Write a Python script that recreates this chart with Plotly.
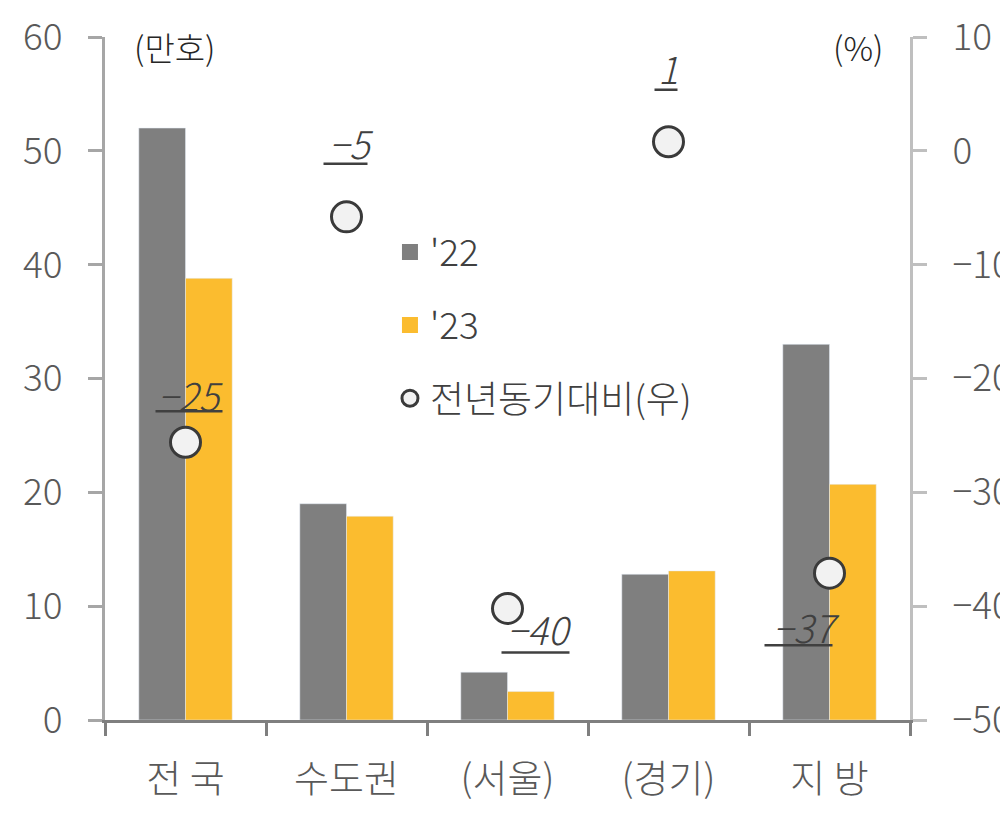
import plotly.graph_objects as go

categories = ["전 국", "수도권", "(서울)", "(경기)", "지 방"]
units_2022 = [52.0, 19.0, 4.2, 12.8, 33.0]
units_2023 = [38.8, 17.9, 2.5, 13.1, 20.7]
yoy_change = [-25.6, -5.8, -40.2, 0.8, -37.1]
yoy_labels = ["−25", "−5", "−40", "1", "−37"]

# label placement in pixels relative to each circle (text dx, dy up) and underline (x0, x1, dy up)
text_offsets = [(5, 48), (4, 74), (32, -20), (-1, 74), (-23, -53)]
line_offsets = [(-30, 37, 31), (-23, 21, 53), (-6, 62, -44), (-14, 9, 52), (-65, 3, -72)]

FONT = "Noto Sans CJK KR"
GRAY = "#7f7f7f"
YELLOW = "#fbbc2f"

fig = go.Figure()
fig.add_trace(go.Bar(x=categories, y=units_2022, marker_color=GRAY, showlegend=False))
fig.add_trace(go.Bar(x=categories, y=units_2023, marker_color=YELLOW, showlegend=False))

# legend entries
fig.add_trace(go.Scatter(x=[None], y=[None], mode="markers", name="'22", legendgroup="a",
                         marker=dict(symbol="square", size=16, color=GRAY)))
fig.add_trace(go.Scatter(x=[None], y=[None], mode="markers", name="'23", legendgroup="b",
                         marker=dict(symbol="square", size=16, color=YELLOW)))
fig.add_trace(go.Scatter(x=categories, y=yoy_change, mode="markers", yaxis="y2",
                         name="전년동기대비(우)", legendgroup="c",
                         marker=dict(size=30, color="#f2f2f2", line=dict(color="#3a3a3a", width=3))))

for cat, val, lab, (dx, dy), (lx0, lx1, ly) in zip(categories, yoy_change, yoy_labels, text_offsets, line_offsets):
    fig.add_annotation(x=cat, y=val, yref="y2", text="<i>" + lab + "</i>", showarrow=False,
                       xshift=dx, yshift=dy,
                       font=dict(family=FONT, size=38, color="#404040", weight=300))
    fig.add_shape(type="line", xref="x", yref="y2", xsizemode="pixel", ysizemode="pixel",
                  xanchor=cat, yanchor=val, x0=lx0, x1=lx1, y0=ly, y1=ly,
                  line=dict(color="#404040", width=2.5))

fig.add_annotation(x=0.087, y=0.985, xref="paper", yref="paper", xanchor="center", yanchor="middle",
                   text="(만호)", showarrow=False,
                   font=dict(family=FONT, size=33, color="#262626", weight=300))
fig.add_annotation(x=0.935, y=0.985, xref="paper", yref="paper", xanchor="center", yanchor="middle",
                   text="(%)", showarrow=False,
                   font=dict(family=FONT, size=33, color="#262626", weight=300))

fig.update_layout(
    width=1008,
    height=818,
    margin=dict(l=97, r=106, t=29, b=106),
    plot_bgcolor="white",
    paper_bgcolor="white",
    font=dict(family=FONT, color="#595959"),
    barmode="group",
    bargap=0.42,
    bargroupgap=0,
    legend=dict(x=0.354, y=0.73, xanchor="left", yanchor="top", tracegroupgap=22,
                font=dict(family=FONT, size=37, color="#404040", weight=300),
                bgcolor="rgba(0,0,0,0)", itemwidth=30),
    xaxis=dict(type="category", range=[-0.5, 4.5], showline=True, linecolor=GRAY, linewidth=3,
               ticks="outside", tickson="boundaries", ticklen=13, tickwidth=3, tickcolor=GRAY,
               automargin=False, ticklabelstandoff=23,
               tickfont=dict(family=FONT, size=38, color="#595959", weight=300), showgrid=False),
    yaxis=dict(range=[0, 60], dtick=10, showline=True, linecolor="#a6a6a6", linewidth=3,
               ticks="outside", ticklen=14, tickwidth=3, tickcolor="#a6a6a6", showgrid=False,
               zeroline=False, ticklabelstandoff=18, automargin=False, ticklabeloverflow="allow",
               tickfont=dict(family=FONT, size=37, color="#595959", weight=300)),
    yaxis2=dict(range=[-50, 10], dtick=10, overlaying="y", side="right", showline=True,
                linecolor="#bfbfbf", linewidth=3, ticks="outside", ticklen=14, tickwidth=3,
                tickcolor="#bfbfbf", showgrid=False, zeroline=False, ticklabelstandoff=18,
                automargin=False, ticklabeloverflow="allow",
                tickfont=dict(family=FONT, size=37, color="#595959", weight=300)),
)

fig.write_html("out.html")
